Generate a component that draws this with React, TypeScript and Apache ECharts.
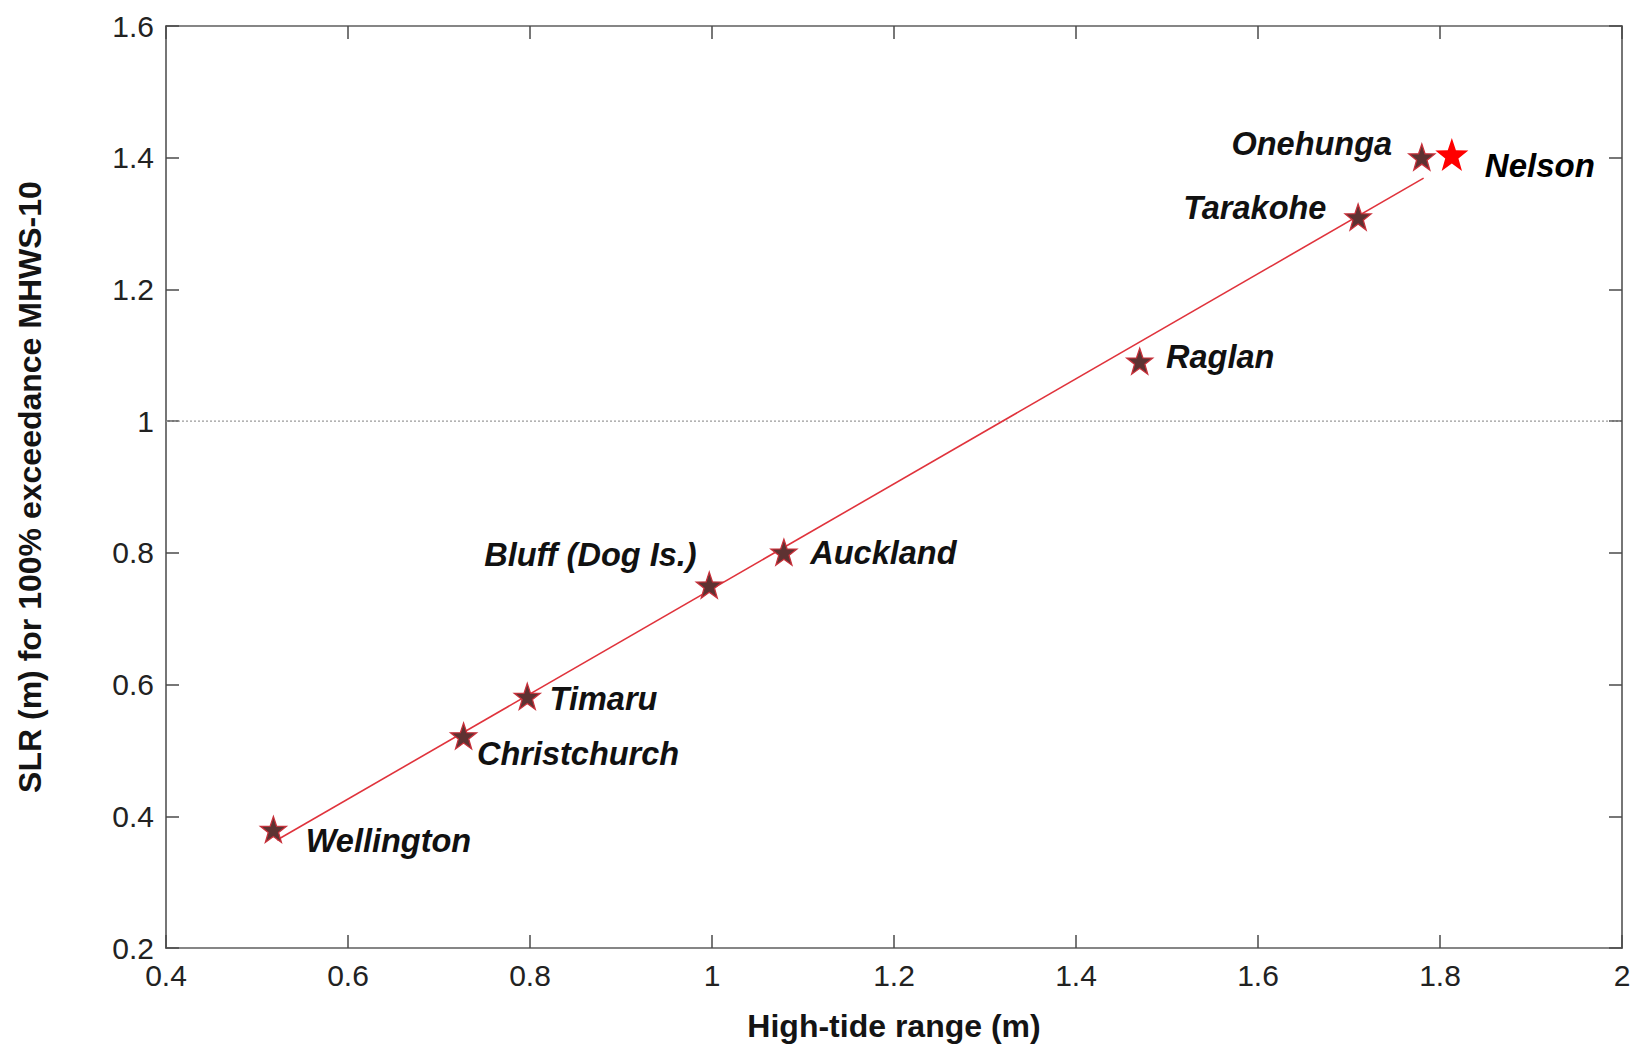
import React, { useEffect, useRef } from "react";
import * as echarts from "echarts";

// Site data
const siteNames = ["Wellington", "Christchurch", "Timaru", "Bluff (Dog Is.)", "Auckland", "Raglan", "Tarakohe", "Onehunga"];
const tideRange = [0.518, 0.727, 0.797, 0.997, 1.079, 1.470, 1.710, 1.780];
const slrValues = [0.380, 0.522, 0.582, 0.751, 0.801, 1.091, 1.310, 1.401];

// Highlighted site
const nelsonName = "Nelson";
const nelsonRange = [1.813];
const nelsonSlr = [1.405];

// Fitted line endpoints
const fitX = [0.522, 1.782];
const fitY = [0.364, 1.369];

// Reference line
const refX = [0.4, 2.0];
const refY = [1.0, 1.0];

// Axis ticks
const xTicks = [0.4, 0.6, 0.8, 1, 1.2, 1.4, 1.6, 1.8, 2];
const yTicks = [0.2, 0.4, 0.6, 0.8, 1, 1.2, 1.4, 1.6];

// label placement relative to star centre: [dx, dy, align]
const labelPlace: [number, number, string][] = [
  [33, 12, "left"],
  [14, 19, "left"],
  [23, 3, "left"],
  [-12, -29, "right"],
  [27, 1, "left"],
  [27, -4, "left"],
  [-31, -8, "right"],
  [-29, -12, "right"],
];

const STAR = 26;
const NSTAR = 33;
const STAR_PATH = "path://M0,-50 L11.8,-16.2 L47.6,-15.5 L19,6.2 L29.4,40.5 L0,20 L-29.4,40.5 L-19,6.2 L-47.6,-15.5 L-11.8,-16.2 Z";
const FONT = "Liberation Sans, Arial, sans-serif";

export default function App() {
  const ref = useRef<HTMLDivElement>(null);
  useEffect(() => {
    if (!ref.current) return;
    const chart = echarts.init(ref.current, undefined, { renderer: "svg" });
    const labelFont = {
      fontFamily: FONT,
      fontSize: 32.5,
      fontWeight: "bold" as const,
      fontStyle: "italic" as const,
      color: "#111111",
    };
    const axisCommon = {
      type: "value" as const,
      interval: 0.2,
      splitLine: { show: false },
      axisLine: { show: true, onZero: false, lineStyle: { color: "#5e5e5e", width: 1.7 } },
      axisTick: { show: true, inside: true, length: 13, lineStyle: { color: "#4a4a4a", width: 1.5 } },
    };
    const fmt = (v: number) => String(Math.round(v * 10) / 10);
    chart.setOption({
      animation: false,
      backgroundColor: "#ffffff",
      grid: { left: 166, top: 26, right: 13, bottom: 99, containLabel: false },
      xAxis: [
        {
          ...axisCommon,
          min: xTicks[0],
          max: xTicks[xTicks.length - 1],
          position: "bottom",
          name: "High-tide range (m)",
          nameLocation: "middle",
          nameGap: 62,
          nameTextStyle: { fontFamily: FONT, fontSize: 32, fontWeight: "bold", color: "#141414" },
          axisLabel: { fontFamily: FONT, fontSize: 30, color: "#222", margin: 12, formatter: fmt },
        },
        {
          ...axisCommon,
          min: xTicks[0],
          max: xTicks[xTicks.length - 1],
          position: "top",
          axisLabel: { show: false },
        },
      ],
      yAxis: [
        {
          ...axisCommon,
          min: yTicks[0],
          max: yTicks[yTicks.length - 1],
          position: "left",
          name: "SLR (m) for 100% exceedance MHWS-10",
          nameLocation: "middle",
          nameGap: 120,
          nameTextStyle: { fontFamily: FONT, fontSize: 32, fontWeight: "bold", color: "#141414" },
          axisLabel: { fontFamily: FONT, fontSize: 30, color: "#222", margin: 12, formatter: fmt },
        },
        {
          ...axisCommon,
          min: yTicks[0],
          max: yTicks[yTicks.length - 1],
          position: "right",
          axisLabel: { show: false },
        },
      ],
      series: [
        {
          type: "line",
          data: refX.map((x, i) => [x, refY[i]]),
          symbol: "none",
          silent: true,
          lineStyle: { color: "#9a9a9a", width: 1.3, type: [2, 2] },
          z: 1,
        },
        {
          type: "line",
          data: fitX.map((x, i) => [x, fitY[i]]),
          symbol: "none",
          silent: true,
          lineStyle: { color: "#e0333c", width: 1.6 },
          z: 2,
        },
        {
          type: "scatter",
          symbol: STAR_PATH,
          symbolSize: STAR,
          itemStyle: { color: "#5e3232", borderColor: "#c8303a", borderWidth: 1.3, opacity: 1 },
          z: 3,
          data: tideRange.map((x, i) => {
            const [dx, dy, align] = labelPlace[i];
            return {
              value: [x, slrValues[i]],
              name: siteNames[i],
              label: {
                show: true,
                formatter: siteNames[i],
                position: [STAR / 2 + dx, STAR / 2 + dy],
                align,
                verticalAlign: "middle",
                ...labelFont,
              },
            };
          }),
        },
        {
          type: "scatter",
          symbol: STAR_PATH,
          symbolSize: NSTAR,
          itemStyle: { color: "#ff0000", opacity: 1 },
          z: 4,
          data: nelsonRange.map((x, i) => ({
            value: [x, nelsonSlr[i]],
            name: nelsonName,
            label: {
              show: true,
              formatter: nelsonName,
              position: [NSTAR / 2 + 33, NSTAR / 2 + 11],
              align: "left",
              verticalAlign: "middle",
              ...labelFont,
              fontSize: 33,
              color: "#000",
            },
          })),
        },
      ],
    });
    return () => chart.dispose();
  }, []);
  return (
    <div
      ref={ref}
      style={{ position: "fixed", left: 0, top: 0, width: 1635, height: 1047, background: "#fff" }}
    />
  );
}
